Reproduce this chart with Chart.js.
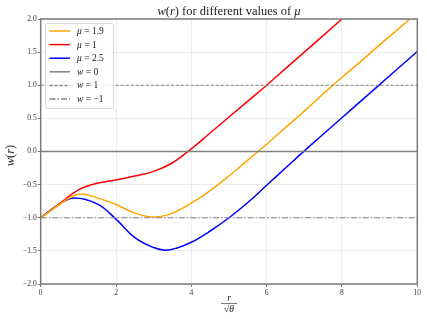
<!DOCTYPE html>
<html>
<head>
<meta charset="utf-8">
<script src="https://cdn.jsdelivr.net/npm/chart.js@4"></script>
<style>
html,body{margin:0;padding:0;background:#fff;}
#wrap{width:427px;height:319px;position:relative;}
</style>
</head>
<body>
<div id="wrap"><canvas id="c" width="427" height="319"></canvas></div>
<script>
// ---- data ----
const rRed    = [0,0.5,1,1.5,2,2.5,3,3.5,4,4.5,5,5.5,6,6.5,7,7.5,8,8.5];
const wRed    = [-1,-0.79,-0.58,-0.48,-0.43,-0.37,-0.30,-0.17,0.04,0.28,0.52,0.76,1.0,1.25,1.50,1.75,2.0,2.25];
const rOrange = [0,0.5,1,1.5,2,2.5,3,3.5,4,4.5,5,5.5,6,6.5,7,7.5,8,8.5,9,9.5,10];
const wOrange = [-1,-0.80,-0.645,-0.70,-0.80,-0.93,-0.99,-0.93,-0.78,-0.59,-0.37,-0.13,0.11,0.36,0.61,0.87,1.12,1.36,1.61,1.85,2.10];
const rBlue   = [0,0.5,0.9,1.5,2,2.5,3,3.3,3.6,4,4.5,5,5.5,6,6.5,7,7.5,8,8.5,9,9.5,10];
const wBlue   = [-1,-0.79,-0.70,-0.79,-1.02,-1.30,-1.45,-1.49,-1.46,-1.37,-1.20,-1.00,-0.77,-0.51,-0.25,0.01,0.26,0.51,0.76,1.01,1.26,1.51];
const refLevels = [0, 1, -1];
const xRange = [0, 10];
const yRange = [-2, 2];
const xTicks = [0,2,4,6,8,10];
const yTicks = [-2.0,-1.5,-1.0,-0.5,0.0,0.5,1.0,1.5,2.0];

const legendItems = [
  {label:[['μ','i'],[' = 1.9','r']], color:'#FFA500', dash:[]},
  {label:[['μ','i'],[' = 1','r']], color:'#FF0000', dash:[]},
  {label:[['μ','i'],[' = 2.5','r']], color:'#0000FF', dash:[]},
  {label:[['w','i'],[' = 0','r']], color:'#808080', dash:[]},
  {label:[['w','i'],[' = 1','r']], color:'#808080', dash:[3,2]},
  {label:[['w','i'],[' = −1','r']], color:'#808080', dash:[6,2,1.5,2]},
];

const pts = (xs, ys) => xs.map((x,i)=>({x:x, y:ys[i]}));
const hline = (v) => xRange.map(x=>({x:x, y:v}));

const SERIF = '"Liberation Serif", "DejaVu Serif", serif';

function drawMixed(ctx, segs, x, y, size, align) {
  let total = 0;
  const widths = segs.map(s=>{
    ctx.font = (s[1]==='i'?'italic ':'') + size + 'px ' + SERIF;
    const w = ctx.measureText(s[0]).width; total += w; return w;
  });
  let cx = align==='center' ? x - total/2 : x;
  segs.forEach((s,i)=>{
    ctx.font = (s[1]==='i'?'italic ':'') + size + 'px ' + SERIF;
    ctx.textAlign = 'left';
    ctx.fillText(s[0], cx, y);
    cx += widths[i];
  });
}

const decor = {
  id:'decor',
  afterDraw(chart){
    const ctx = chart.ctx, a = chart.chartArea;
    ctx.save();
    // frame
    ctx.strokeStyle = '#7a7a7a'; ctx.lineWidth = 1.5; ctx.setLineDash([]);
    ctx.strokeRect(a.left, a.top, a.right-a.left, a.bottom-a.top);
    // title
    ctx.fillStyle = '#222'; ctx.textBaseline = 'alphabetic';
    drawMixed(ctx, [['w','i'],['(','r'],['r','i'],[')','r'],[' for different values of ','r'],['μ','i']], (a.left+a.right)/2, 15, 12.5, 'center');
    // y label
    ctx.save();
    ctx.translate(14, (a.top+a.bottom)/2 + 4);
    ctx.rotate(-Math.PI/2);
    drawMixed(ctx, [['w','i'],['(','r'],['r','i'],[')','r']], 0, 0, 12.5, 'center');
    ctx.restore();
    // x label r / sqrt(theta)
    const cx = (a.left+a.right)/2;
    ctx.font = 'italic 9.5px ' + SERIF; ctx.textAlign='center';
    ctx.fillText('r', cx, 301);
    ctx.strokeStyle = '#222'; ctx.lineWidth = 0.6;
    ctx.beginPath(); ctx.moveTo(cx-8, 303.5); ctx.lineTo(cx+8, 303.5); ctx.stroke();
    drawMixed(ctx, [['√','r'],['θ','i']], cx, 312, 9.5, 'center');
    // legend
    const lx = 45.5, ly = 23.5, lw = 68, lh = 85;
    ctx.fillStyle = 'rgba(255,255,255,0.85)';
    ctx.strokeStyle = '#d0d0d0'; ctx.lineWidth = 0.8;
    ctx.beginPath();
    if (ctx.roundRect) ctx.roundRect(lx, ly, lw, lh, 2); else ctx.rect(lx,ly,lw,lh);
    ctx.fill(); ctx.stroke();
    legendItems.forEach((it, i)=>{
      const y = 31 + i*13.6;
      ctx.strokeStyle = it.color; ctx.lineWidth = 1.5; ctx.setLineDash(it.dash);
      ctx.beginPath(); ctx.moveTo(49.5, y); ctx.lineTo(70, y); ctx.stroke();
      ctx.setLineDash([]);
      ctx.fillStyle = '#222'; ctx.textBaseline = 'middle';
      drawMixed(ctx, it.label, 77, y+0.5, 9.5, 'left');
    });
    ctx.restore();
  }
};

const lineDS = (label, data, color, dash, width) => ({
  label, data, borderColor: color, backgroundColor: color, borderWidth: width,
  borderDash: dash, pointRadius: 0, fill: false, tension: 0.4
});

new Chart(document.getElementById('c'), {
  type: 'line',
  data: {
    datasets: [
      lineDS('w = 0', hline(refLevels[0]), '#808080', [], 1.5),
      lineDS('w = 1', hline(refLevels[1]), '#808080', [3,2], 1.1),
      lineDS('w = −1', hline(refLevels[2]), '#808080', [6,2,1.5,2], 1.1),
      lineDS('μ = 1.9', pts(rOrange, wOrange), '#FFA500', [], 1.5),
      lineDS('μ = 1', pts(rRed, wRed), '#FF0000', [], 1.5),
      lineDS('μ = 2.5', pts(rBlue, wBlue), '#0000FF', [], 1.5),
    ]
  },
  options: {
    responsive: false, animation: false, devicePixelRatio: 1,
    layout: { padding: { left: 0, right: 9.7, top: 19, bottom: 0 } },
    plugins: { legend: { display: false }, title: { display: false }, tooltip: { enabled: false } },
    scales: {
      x: {
        type: 'linear', min: xRange[0], max: xRange[1],
        afterBuildTicks: s => { s.ticks = xTicks.map(v=>({value:v})); },
        afterFit: s => { s.height = 35; },
        grid: { color: '#e8e8e8', lineWidth: 0.8, drawTicks: true, tickLength: 3, tickColor: '#7a7a7a', tickWidth: 1 },
        border: { display: false },
        ticks: { color: '#333', font: { family: SERIF, size: 7.5 }, padding: 2, maxRotation: 0,
                 callback: v => String(v) }
      },
      y: {
        type: 'linear', min: yRange[0], max: yRange[1],
        afterBuildTicks: s => { s.ticks = yTicks.map(v=>({value:v})); },
        afterFit: s => { s.width = 40.7; },
        grid: { color: '#e8e8e8', lineWidth: 0.8, drawTicks: true, tickLength: 3, tickColor: '#7a7a7a', tickWidth: 1 },
        border: { display: false },
        ticks: { color: '#333', font: { family: SERIF, size: 7.5 }, padding: 1,
                 callback: v => v.toFixed(1).replace('-', '−') }
      }
    }
  },
  plugins: [decor]
});
</script>
</body>
</html>
